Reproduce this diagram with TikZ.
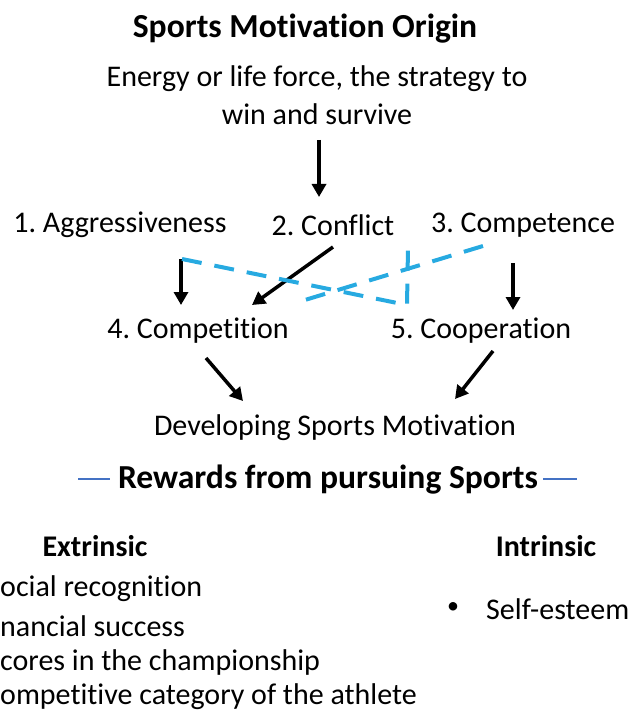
\documentclass[tikz,border=0pt]{standalone}
\usepackage{fontspec}
\setmainfont[Ligatures=NoCommon]{Carlito}
\usetikzlibrary{arrows.meta}
\definecolor{dashblue}{HTML}{27AAE1}
\definecolor{ruleblue}{HTML}{4472C4}
\frenchspacing
\begin{document}
\begin{tikzpicture}[x=1pt,y=-1pt,
  txt/.style={inner sep=0pt, font=\fontsize{30}{36}\selectfont},
  btxt/.style={inner sep=0pt, font=\fontsize{30}{36}\selectfont\bfseries},
  htxt/.style={inner sep=0pt, font=\fontsize{33.6}{40}\selectfont\bfseries},
  arr/.style={line width=3.5pt, -{Triangle[length=13pt,width=14pt]}},
  dsh/.style={dashblue, line width=4pt, dash pattern=on 20pt off 13pt},
]
\useasboundingbox (0,0) rectangle (634,711);
\node[htxt] (title) at (305,29) {Sports Motivation Origin};
\node[txt] (energy1) at (317,79) {Energy or life force, the strategy to};
\node[txt] (energy2) at (317,114) {win and survive};
\node[txt] (aggr) at (120,225) {1. Aggressiveness};
\node[txt] (confl) at (333,225) {2. Conflict};
\node[txt] (compt) at (523,225) {3. Competence};
\node[txt] (compn) at (198,331) {4. Competition};
\node[txt] (coop) at (481,331) {5. Cooperation};
\node[txt] (dev) at (335,428) {Developing Sports Motivation};
\node[htxt] (rew) at (328,480) {Rewards from pursuing Sports};
\node[btxt] (ext) at (95,546) {Extrinsic};
\node[btxt] (intr) at (546,546) {Intrinsic};
\node[txt, anchor=west] (se) at (486,609) {Self-esteem};
\node[inner sep=0pt, font=\fontsize{24}{28}\selectfont] (bul) at (453,608) {\textbullet};
\node[txt, anchor=west] (l1) at (0,589) {ocial recognition};
\node[txt, anchor=west] (l2) at (0,626) {nancial success};
\node[txt, anchor=west] (l3) at (0,662) {cores in the championship};
\node[txt, anchor=west] (l4) at (0,696.5) {ompetitive category of the athlete};
% rules
\coordinate (rl1) at (78,479); \coordinate (rl2) at (110,479);
\coordinate (rr1) at (543,479); \coordinate (rr2) at (577,479);
\draw[ruleblue, line width=1.3pt] (rl1) -- (rl2);
\draw[ruleblue, line width=1.3pt] (rr1) -- (rr2);
% arrows
\coordinate (a0s) at (319,140); \coordinate (a0e) at (319,197);
\coordinate (a1s) at (181,259); \coordinate (a1e) at (181,305);
\coordinate (a2s) at (333,247); \coordinate (a2e) at (252,305);
\coordinate (a3s) at (513,263); \coordinate (a3e) at (513,310);
\coordinate (a4s) at (206,358); \coordinate (a4e) at (243,401);
\coordinate (a5s) at (493,351); \coordinate (a5e) at (455,399);
\draw[arr] (a0s) -- (a0e);
\draw[arr] (a1s) -- (a1e);
\draw[arr] (a2s) -- (a2e);
\draw[arr] (a3s) -- (a3e);
\draw[arr] (a4s) -- (a4e);
\draw[arr] (a5s) -- (a5e);
% dashed
\coordinate (d1a) at (182,259); \coordinate (d1b) at (407,305); \coordinate (d1c) at (408,248);
\coordinate (d2a) at (483,246); \coordinate (d2b) at (295,303);
\draw[dsh] (d1a) -- (d1b) -- (d1c);
\draw[dsh] (d2a) -- (d2b);
\end{tikzpicture}
\end{document}
